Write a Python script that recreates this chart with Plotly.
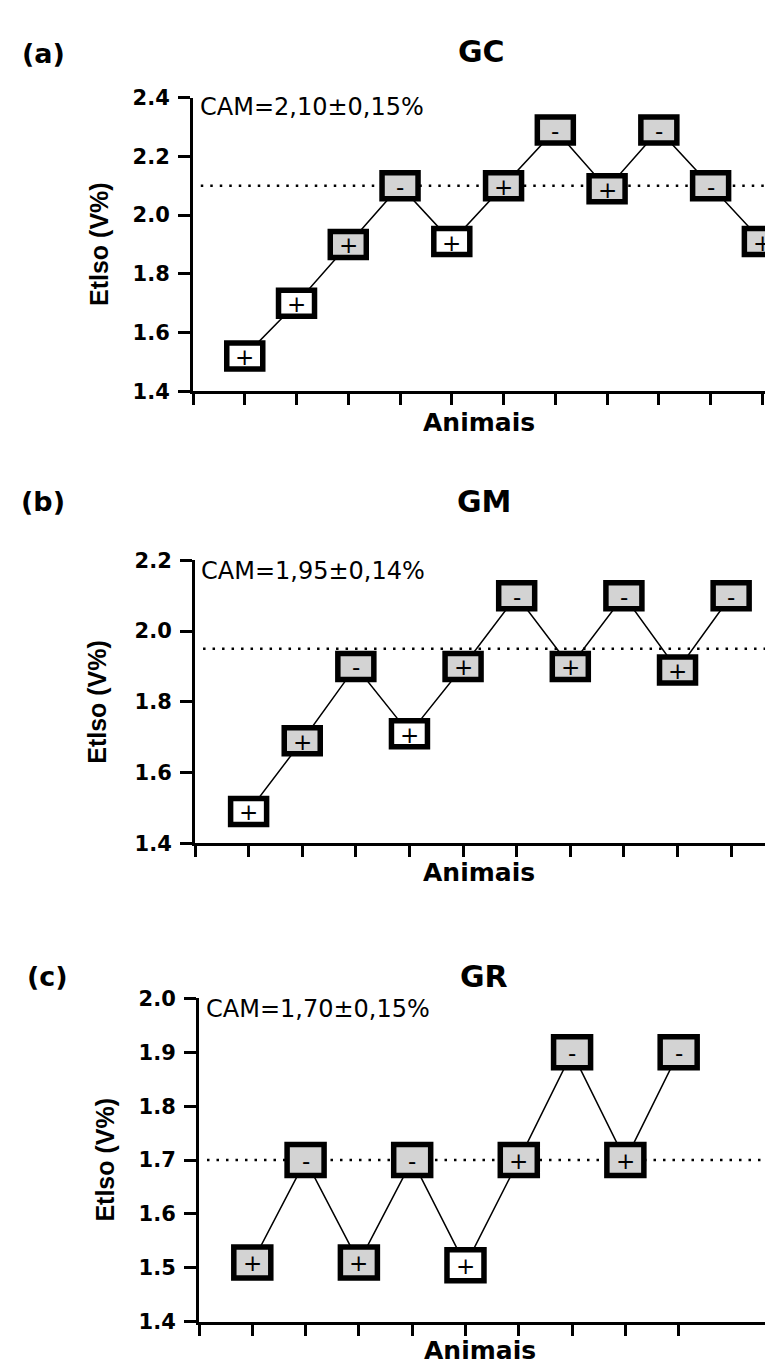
import plotly.graph_objects as go

W, H = 773, 1365

# ---------------- data ----------------
panel_letters = ["(a)", "(b)", "(c)"]
titles = ["GC", "GM", "GR"]
cam_labels = ["CAM=2,10±0,15%", "CAM=1,95±0,14%", "CAM=1,70±0,15%"]
cam_means = [2.10, 1.95, 1.70]
y_title = "Etlso (V%)"
x_title = "Animais"

gc_values = [1.52, 1.70, 1.90, 2.10, 1.91, 2.10, 2.29, 2.09, 2.29, 2.10, 1.91]
gc_signs = ["+", "+", "+", "-", "+", "+", "-", "+", "-", "-", "+"]
gc_filled = [False, False, True, True, False, True, True, True, True, True, True]

gm_values = [1.49, 1.69, 1.90, 1.71, 1.90, 2.10, 1.90, 2.10, 1.89, 2.10]
gm_signs = ["+", "+", "-", "+", "+", "-", "+", "-", "+", "-"]
gm_filled = [False, True, True, False, True, True, True, True, True, True]

gr_values = [1.51, 1.70, 1.51, 1.70, 1.505, 1.70, 1.90, 1.70, 1.90]
gr_signs = ["+", "-", "+", "-", "+", "+", "-", "+", "-"]
gr_filled = [True, True, True, True, False, True, True, True, True]

y_ranges = [(1.4, 2.4), (1.4, 2.2), (1.4, 2.0)]
y_dticks = [0.2, 0.2, 0.1]

# ---------------- layout geometry (pixels) ----------------
plot_left = [185, 187, 191]
plot_top = [79, 550, 996]
plot_bottom = [378, 838, 1325]
x_max = [11.36, 10.93, 10.92]
x_dash_end = [11.1, 10.93, 10.92]
box_half = [(18.0, 13.0), (18.0, 13.0), (18.5, 15.5)]
letter_pos = [(35, 34), (35, 490), (39, 974)]
title_pos = [(473, 32), (476, 490), (476, 974)]
cam_pos = [(190, 89), (191, 561), (196, 1007)]
xtitle_pos = [(471, 410), (471, 868), (472, 1354)]
ytitle_pos = [(91, 228), (89, 694), (97, 1160)]

GRAY = "#d3d3d3"


def px(xp):
    return xp / W


def py(yp):
    return 1 - yp / H


panels = [
    (gc_values, gc_signs, gc_filled),
    (gm_values, gm_signs, gm_filled),
    (gr_values, gr_signs, gr_filled),
]

fig = go.Figure()
shapes = []
annotations = []
layout = dict(
    width=W, height=H, margin=dict(l=0, r=0, t=0, b=0),
    paper_bgcolor="white", plot_bgcolor="white", showlegend=False,
)

for i, (vals, signs, filled) in enumerate(panels):
    xa = "x" if i == 0 else f"x{i+1}"
    ya = "y" if i == 0 else f"y{i+1}"
    xs = list(range(1, len(vals) + 1))

    # connecting line
    fig.add_trace(go.Scatter(
        x=xs, y=vals, mode="lines", xaxis=xa, yaxis=ya,
        line=dict(color="black", width=1.5), hoverinfo="skip",
    ))
    # mean dotted line
    fig.add_trace(go.Scatter(
        x=[0.15, x_dash_end[i]], y=[cam_means[i], cam_means[i]], mode="lines",
        xaxis=xa, yaxis=ya,
        line=dict(color="black", width=2.5, dash="2.5px,7px"), hoverinfo="skip",
    ))

    hw, hh = box_half[i]
    for k, v, s, f in zip(xs, vals, signs, filled):
        shapes.append(dict(
            type="rect", xref=xa, yref=ya, xsizemode="pixel", ysizemode="pixel",
            xanchor=k, yanchor=v, x0=-hw, x1=hw, y0=-hh, y1=hh,
            fillcolor=GRAY if f else "white",
            line=dict(color="black", width=5.5), layer="above",
        ))
        annotations.append(dict(
            x=k, y=v, xref=xa, yref=ya, text=s, showarrow=False,
            font=dict(family="DejaVu Sans", size=23, color="black"),
            xanchor="center", yanchor="middle", yshift=-1,
        ))

    axkey = "xaxis" if i == 0 else f"xaxis{i+1}"
    aykey = "yaxis" if i == 0 else f"yaxis{i+1}"
    layout[axkey] = dict(
        domain=[px(plot_left[i]), 1.0], range=[0, x_max[i]], anchor=ya,
        showgrid=False, zeroline=False, showline=True, linecolor="black", linewidth=3,
        ticks="outside", ticklen=11, tickwidth=3, tickcolor="black",
        tickvals=list(range(0, len(vals) + 1)), showticklabels=False,
    )
    layout[aykey] = dict(
        domain=[py(plot_bottom[i]), py(plot_top[i])], range=list(y_ranges[i]), anchor=xa,
        showgrid=False, zeroline=False, showline=True, linecolor="black", linewidth=3,
        ticks="outside", ticklen=12, tickwidth=3, tickcolor="black",
        tick0=y_ranges[i][0], dtick=y_dticks[i], tickformat=".1f",
        tickfont=dict(family="DejaVu Sans", size=21, color="black", weight="bold"),
        ticklabelstandoff=4,
    )

    # texts
    annotations.append(dict(
        x=px(letter_pos[i][0]), y=py(letter_pos[i][1]), xref="paper", yref="paper",
        text=panel_letters[i], showarrow=False, xanchor="center", yanchor="middle",
        font=dict(family="DejaVu Sans", size=27, color="black", weight="bold"),
    ))
    annotations.append(dict(
        x=px(title_pos[i][0]), y=py(title_pos[i][1]), xref="paper", yref="paper",
        text=titles[i], showarrow=False, xanchor="center", yanchor="middle",
        font=dict(family="DejaVu Sans", size=30, color="black", weight="bold"),
    ))
    annotations.append(dict(
        x=px(cam_pos[i][0]), y=py(cam_pos[i][1]), xref="paper", yref="paper",
        text=cam_labels[i], showarrow=False, xanchor="left", yanchor="middle",
        font=dict(family="DejaVu Sans", size=24, color="black"),
    ))
    annotations.append(dict(
        x=px(xtitle_pos[i][0]), y=py(xtitle_pos[i][1]), xref="paper", yref="paper",
        text=x_title, showarrow=False, xanchor="center", yanchor="middle",
        font=dict(family="DejaVu Sans", size=25, color="black", weight="bold"),
    ))
    annotations.append(dict(
        x=px(ytitle_pos[i][0]), y=py(ytitle_pos[i][1]), xref="paper", yref="paper",
        text=y_title, showarrow=False, xanchor="center", yanchor="middle", textangle=-90,
        font=dict(family="Liberation Sans", size=25, color="black", weight="bold"),
    ))

layout["shapes"] = shapes
layout["annotations"] = annotations
fig.update_layout(**layout)
fig.write_html("out.html")
